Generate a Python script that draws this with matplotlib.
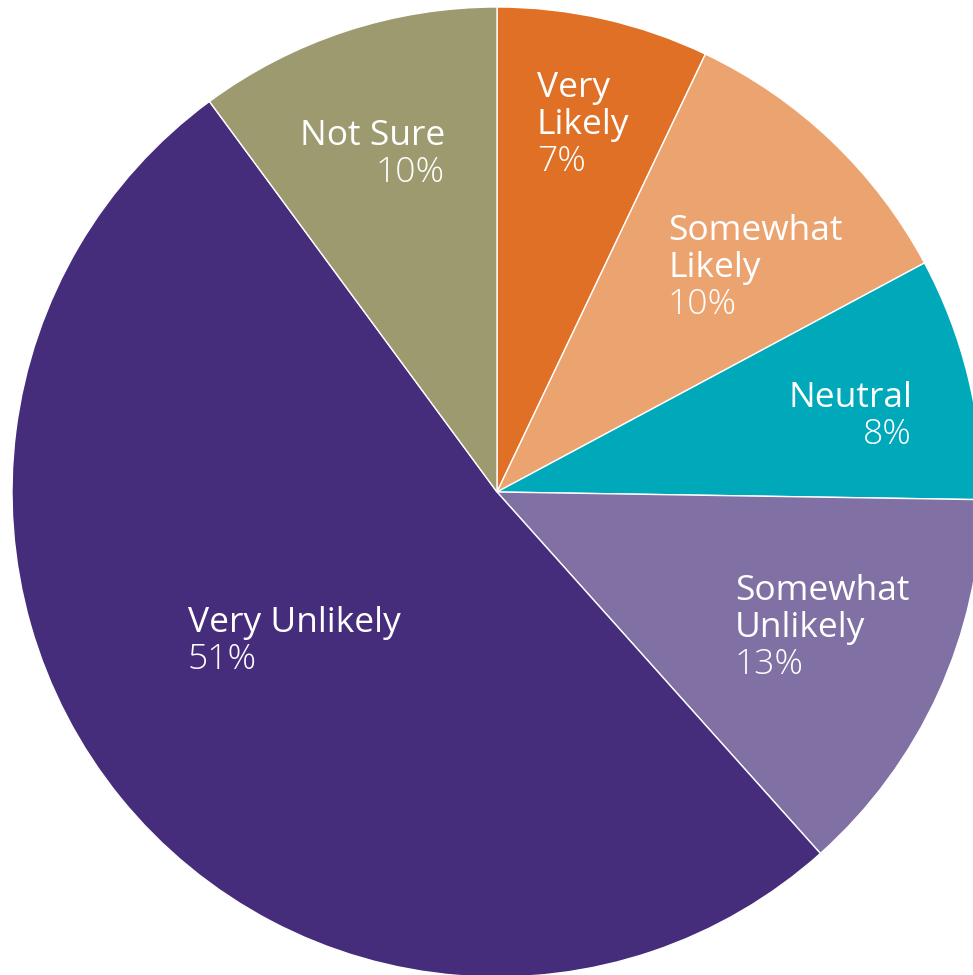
import matplotlib
matplotlib.use("Agg")
import matplotlib.pyplot as plt

# Survey responses, clockwise from 12 o'clock
categories = ["Very Likely", "Somewhat Likely", "Neutral",
              "Somewhat Unlikely", "Very Unlikely", "Not Sure"]
values = [7, 10, 8, 13, 51, 10]
name_lines = [["Very", "Likely"], ["Somewhat", "Likely"], ["Neutral"],
              ["Somewhat", "Unlikely"], ["Very Unlikely"], ["Not Sure"]]
colors = ["#E07026", "#EBA36F", "#00A9BA", "#8070A3", "#452D7C", "#9C9A6E"]

W, H = 973, 975
fig = plt.figure(figsize=(W / 100, H / 100), dpi=100)
ax = fig.add_axes([0, 0, 1, 1])

ax.pie(values, colors=colors, startangle=90, counterclock=False,
       center=(497, H - 492), radius=485, frame=True,
       wedgeprops=dict(edgecolor="white", linewidth=1.0))
ax.set_xlim(0, W)
ax.set_ylim(0, H)
ax.axis("off")

# label anchor (x, first baseline in px from top, alignment)
anchors = [(537, 97, "left"), (668, 240, "left"), (912, 407, "right"),
           (735, 600, "left"), (188, 632, "left"), (445, 145, "right")]
step = 37
name_font = dict(family=["Open Sans", "DejaVu Sans"], size=25.5, color="white")
pct_font = dict(family=["Open Sans", "DejaVu Sans"], weight="light", size=25.5, color="white")

for lines, v, (x, y0, ha) in zip(name_lines, values, anchors):
    for i, line in enumerate(lines):
        ax.text(x, H - (y0 + i * step), line, ha=ha, va="baseline", **name_font)
    ax.text(x, H - (y0 + len(lines) * step), f"{v}%", ha=ha, va="baseline", **pct_font)

fig.savefig("out.png", dpi=100, facecolor="white")
